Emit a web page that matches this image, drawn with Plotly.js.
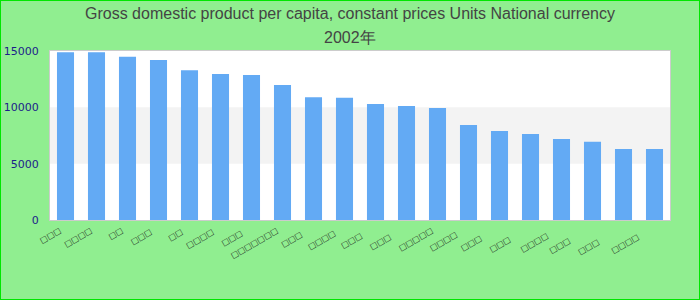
<!DOCTYPE html>
<html>
<head>
<meta charset="utf-8">
<script src="https://cdn.plot.ly/plotly-3.0.1.min.js"></script>
<style>
  html, body { margin: 0; padding: 0; background: #90ee90; }
  #wrap { position: relative; width: 700px; height: 300px; }
  #chart { width: 700px; height: 300px; }
  #frame { position: absolute; left: 0; top: 0; width: 700px; height: 300px; box-sizing: border-box; border: 1px solid #00e600; pointer-events: none; }
</style>
</head>
<body>
<div id="wrap"><div id="chart"></div><div id="frame"></div></div>
<script>
// Category labels: the reference renders these CJK names as missing-glyph boxes,
// so they are unreadable; boxes with the same character counts stand in for them.
const categories = [
  "□□□", "□□□□", "□□", "□□□ ", "□□ ", "□□□□ ", "□□□  ", "□□□□□□□",
  "□□□   ", "□□□□  ", "□□□    ", "□□□     ", "□□□□□", "□□□□   ",
  "□□□      ", "□□□       ", "□□□□    ", "□□□        ", "□□□         ", "□□□□     "
];
const values = [14900, 14900, 14480, 14200, 13300, 12960, 12880, 11990,
  10900, 10840, 10300, 10120, 9950, 8440, 7900, 7640, 7200, 6940, 6300, 6300];
const titleLine1 = "Gross domestic product per capita, constant prices Units National currency";
const titleLine2 = "2002年";
const yTicks = [0, 5000, 10000, 15000];
const band = [5000, 10000];

const trace = {
  type: "bar",
  x: categories,
  y: values,
  marker: { color: "#63aaf4" },
  hoverinfo: "x+y"
};

const plotTop = 51, plotBottom = 220;
const plotH = plotBottom - plotTop;

const layout = {
  width: 700, height: 300,
  paper_bgcolor: "#90ee90",
  plot_bgcolor: "#ffffff",
  margin: { l: 50, r: 30, t: plotTop, b: 300 - plotBottom, pad: 0 },
  bargap: 0.45,
  showlegend: false,
  title: {
    text: titleLine1,
    font: { family: "Liberation Sans, Arial, sans-serif", size: 16, color: "#444444" },
    x: 0.5, xanchor: "center",
    y: 1 - 13 / 300, yanchor: "middle", yref: "container"
  },
  annotations: [{
    text: titleLine2,
    xref: "paper", yref: "paper",
    x: 0.5 - (10 / 620), xanchor: "center",
    y: 1 + (plotTop - 37) / plotH, yanchor: "middle",
    showarrow: false,
    font: { family: "Liberation Sans, Arial, sans-serif", size: 16, color: "#444444" }
  }],
  shapes: [{
    type: "rect", xref: "paper", yref: "y",
    x0: 0, x1: 1, y0: band[0], y1: band[1],
    fillcolor: "#f3f3f3", line: { width: 0 }, layer: "below"
  }],
  xaxis: {
    type: "category",
    tickangle: -30,
    tickfont: { family: "DejaVu Sans, sans-serif", size: 8, color: "#1a1a1a" },
    ticklabelshift: -6,
    ticklabelstandoff: 2,
    showgrid: false,
    showline: true, linecolor: "#cccccc", linewidth: 1, mirror: true,
    ticks: "", automargin: false
  },
  yaxis: {
    range: [0, 15000],
    tickvals: yTicks,
    ticktext: yTicks.map(String),
    tickfont: { family: "DejaVu Sans, sans-serif", size: 11, color: "#1c1c8a" },
    showgrid: false, zeroline: false,
    showline: true, linecolor: "#cccccc", linewidth: 1, mirror: true,
    ticks: "", ticklabelstandoff: 8, automargin: false
  }
};

Plotly.newPlot("chart", [trace], layout, { displayModeBar: false, staticPlot: true });
</script>
</body>
</html>
